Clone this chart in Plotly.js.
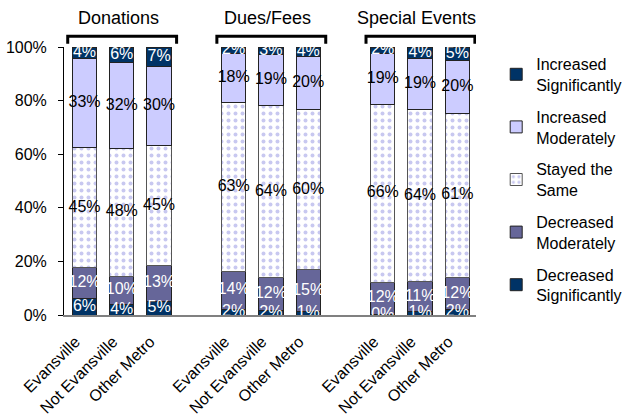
<!DOCTYPE html>
<html>
<head>
<meta charset="utf-8">
<script src="https://cdn.plot.ly/plotly-3.0.1.min.js"></script>
<style>
  html, body { margin: 0; padding: 0; background: #fff; }
  #plot { width: 639px; height: 416px; }
</style>
</head>
<body>
<div id="plot"></div>
<script>
// categories: three sites per source of revenue, with a gap slot between groups
var groups = ["Donations", "Dues/Fees", "Special Events"];
var sites = ["Evansville", "Not Evansville", "Other Metro"];
var positions = [0, 1, 2, 4, 5, 6, 8, 9, 10];
var tickLabels = ["Evansville", "Not Evansville", "Other Metro",
                  "Evansville", "Not Evansville", "Other Metro",
                  "Evansville", "Not Evansville", "Other Metro"];
var yTicks = [0, 20, 40, 60, 80, 100];
var yTickLabels = ["0%", "20%", "40%", "60%", "80%", "100%"];

// percent of respondents, bottom of stack first
var decreasedSig = [6.0, 4.1, 5.2, 2.2, 1.6, 1.4, 0.3, 1.4, 1.9];
var decreasedMod = [11.6, 10.4, 13.2, 14.2, 12.4, 15.4, 12.0, 11.0, 12.1];
var stayedSame = [44.9, 47.6, 44.7, 62.9, 64.1, 60.0, 66.2, 64.3, 61.3];
var increasedMod = [33.3, 32.1, 29.6, 18.3, 19.0, 19.6, 19.2, 19.1, 19.7];
var increasedSig = [4.2, 5.8, 7.3, 2.4, 2.9, 3.6, 2.3, 4.2, 5.0];

var navy = "#003366";
var fontFam = "Liberation Sans, Arial, sans-serif";

var series = [
  { name: "Decreased<br>Significantly", vals: decreasedSig, fill: navy, txt: "#ffffff" },
  { name: "Decreased<br>Moderately", vals: decreasedMod, fill: "#666699", txt: "#ffffff" },
  { name: "Stayed the<br>Same", vals: stayedSame, fill: "#ffffff", txt: "#000000", dots: true },
  { name: "Increased<br>Moderately", vals: increasedMod, fill: "#ccccff", txt: "#000000" },
  { name: "Increased<br>Significantly", vals: increasedSig, fill: navy, txt: "#ffffff" }
];

var data = [];
var labels = [];
var base = positions.map(() => 0);
series.forEach(function(s, k) {
  var bar = {
    x: positions,
    y: s.vals,
    name: s.name,
    legendgroup: "g" + k,
    legendrank: 10 - k,
    type: "bar",
    width: 0.65,
    hoverinfo: "skip",
    marker: {
      color: s.fill,
      line: { color: "#222", width: 1 }
    }
  };
  if (s.dots) {
    bar.marker.pattern = { shape: ".", fgcolor: "#c8c8f0", bgcolor: "#ffffff", size: 7, solidity: 0.25 };
    bar.marker.line.color = "#555";
  }
  data.push(bar);
  // value labels centred in each segment
  labels.push({
    x: positions,
    y: s.vals.map((v, i) => base[i] + v / 2),
    text: s.vals.map(v => Math.round(v) + "%"),
    mode: "text",
    type: "scatter",
    showlegend: false,
    hoverinfo: "skip",
    cliponaxis: true,
    textposition: "middle center",
    textfont: { family: fontFam, size: 16, color: s.txt }
  });
  base = base.map((b, i) => b + s.vals[i]);
});
data = data.concat(labels);

// group headers and brackets above each set of three bars
var annotations = [];
var shapes = [];
groups.forEach(function(g, i) {
  var first = positions[i * 3];
  var last = positions[i * 3 + 2];
  annotations.push({
    x: (first + last) / 2 - 0.1, xref: "x",
    y: 1.11, yref: "paper", yanchor: "middle",
    text: g, showarrow: false,
    font: { family: fontFam, size: 18, color: "#000" }
  });
  shapes.push({
    type: "path", xref: "x", yref: "paper",
    path: "M " + (first - 0.45) + " 1.012 L " + (first - 0.45) + " 1.04 L " +
          (last + 0.47) + " 1.04 L " + (last + 0.47) + " 1.012",
    line: { color: "#000", width: 3 }
  });
});

var layout = {
  width: 639,
  height: 416,
  margin: { l: 64, r: 132, t: 47, b: 101 },
  barmode: "stack",
  showlegend: true,
  paper_bgcolor: "#fff",
  plot_bgcolor: "#fff",
  font: { family: fontFam, size: 16, color: "#000" },
  xaxis: {
    range: [-0.55, 10.5],
    tickvals: positions,
    ticktext: tickLabels,
    tickangle: -45,
    ticks: "",
    ticklabelstandoff: 9,
    ticklabelshift: -9,
    showgrid: false,
    zeroline: false,
    showline: true,
    linecolor: "#808080",
    linewidth: 2,
    tickfont: { family: fontFam, size: 16 }
  },
  yaxis: {
    range: [0, 100],
    tickvals: yTicks,
    ticktext: yTickLabels,
    ticks: "outside",
    ticklen: 5,
    tickcolor: "#000",
    ticklabelstandoff: 8,
    showgrid: false,
    zeroline: false,
    showline: true,
    linecolor: "#000",
    linewidth: 1,
    tickfont: { family: fontFam, size: 16 }
  },
  legend: {
    x: 1.049, xanchor: "left",
    y: 1.0, yanchor: "top",
    bgcolor: "rgba(0,0,0,0)",
    font: { family: fontFam, size: 16 },
    tracegroupgap: 8,
    traceorder: "grouped"
  },
  annotations: annotations,
  shapes: shapes
};

Plotly.newPlot("plot", data, layout, { displayModeBar: false, staticPlot: true });
</script>
</body>
</html>
